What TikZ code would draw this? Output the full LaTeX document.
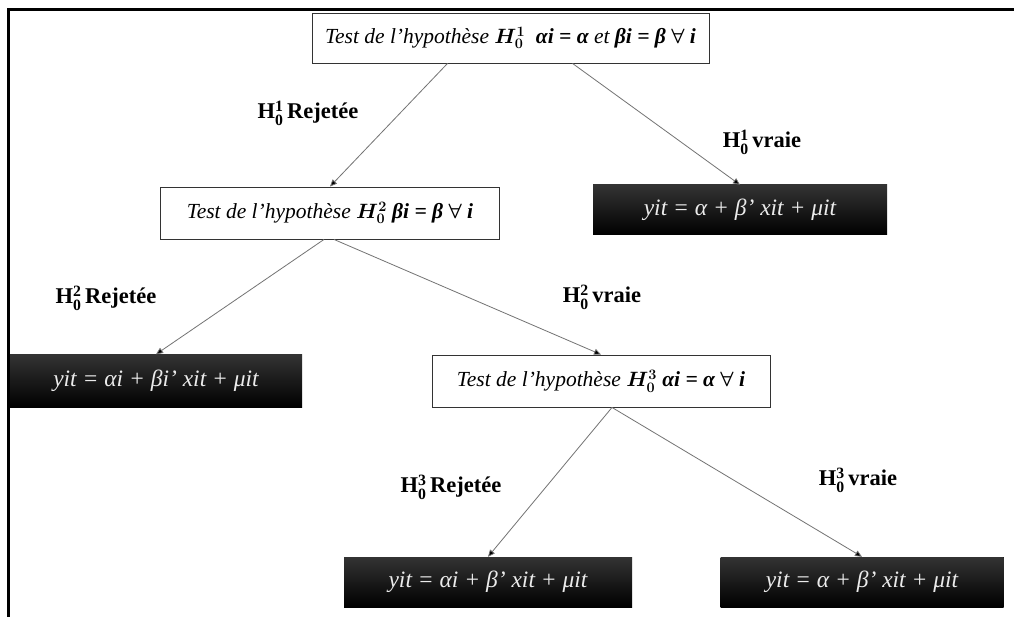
\documentclass[tikz,border=0pt]{standalone}
\usepackage{amsmath,amssymb,bm}
\usepackage{fontspec}
\setmainfont{Liberation Serif}
\usetikzlibrary{arrows.meta}
\tikzset{
  testbox/.style={draw=black!80, line width=0.9pt, fill=white, inner sep=0pt,
    font=\fontsize{21.5}{25}\selectfont\itshape},
  resbox/.style={fill=black, inner sep=0pt, text=black!8,
    top color=black!80, middle color=black, bottom color=black,
    font=\fontsize{23.5}{27}\selectfont\itshape},
  lab/.style={font=\fontsize{22.5}{26}\selectfont\bfseries, inner sep=0pt},
  conn/.style={draw=black!55, line width=0.8pt, -{Triangle[length=7pt,width=6pt,fill=black]}},
}
\newcommand{\Hyp}[1]{$\mathbf{H}_{\mathbf{0}}^{\mathbf{#1}}$\,}
\newcommand{\HypI}[1]{$\bm{H}_{\bm{0}}^{\bm{#1}}$}
\newcommand{\fa}{$\bm{\forall}$}
\begin{document}
\begin{tikzpicture}[x=1pt,y=-1pt]
\useasboundingbox (0,0) rectangle (1014,617);
\fill[white] (0,0) rectangle (1014,617);
\draw[line width=3pt] (8,617) -- (8,10) -- (1014,10);

\node[testbox, minimum width=397pt, minimum height=50pt] (t1) at (510.5,38)
  {Test de l'hypothèse \HypI{1}\ \ \textbf{αi = α} et \textbf{βi = β \fa\ i}};
\node[testbox, minimum width=339pt, minimum height=52pt] (t2) at (330,213)
  {Test de l'hypothèse \HypI{2} \textbf{βi = β \fa\ i}};
\node[resbox, minimum width=294pt, minimum height=50pt] (b1) at (740,210)
  {yit = α + β' xit + μit};
\node[resbox, minimum width=292pt, minimum height=53pt] (b2) at (156,381)
  {yit = αi + βi' xit + μit};
\node[testbox, minimum width=338pt, minimum height=52pt] (t3) at (601,381)
  {Test de l'hypothèse \HypI{3} \textbf{αi = α \fa\ i}};
\node[resbox, minimum width=288pt, minimum height=50pt] (b3) at (488,582)
  {yit = αi + β' xit + μit};
\node[resbox, minimum width=283pt, minimum height=50pt] (b4) at (862,582)
  {yit = α + β' xit + μit};

\node[lab] (l1) at (308,113) {\Hyp{1}Rejetée};
\node[lab] (l2) at (762,142) {\Hyp{1}vraie};
\node[lab] (l3) at (106,298) {\Hyp{2}Rejetée};
\node[lab] (l4) at (602,297) {\Hyp{2}vraie};
\node[lab] (l5) at (451,487) {\Hyp{3}Rejetée};
\node[lab] (l6) at (858,480) {\Hyp{3}vraie};

\draw[conn] ([xshift=-63pt]t1.south) -- (t2.north);
\draw[conn] ([xshift=62pt]t1.south) -- (b1.north);
\draw[conn] ([xshift=-6pt]t2.south) -- (b2.north);
\draw[conn] ([xshift=4pt]t2.south) -- (t3.north);
\draw[conn] ([xshift=11pt]t3.south) -- (b3.north);
\draw[conn] ([xshift=11pt]t3.south) -- (b4.north);
\end{tikzpicture}
\end{document}
